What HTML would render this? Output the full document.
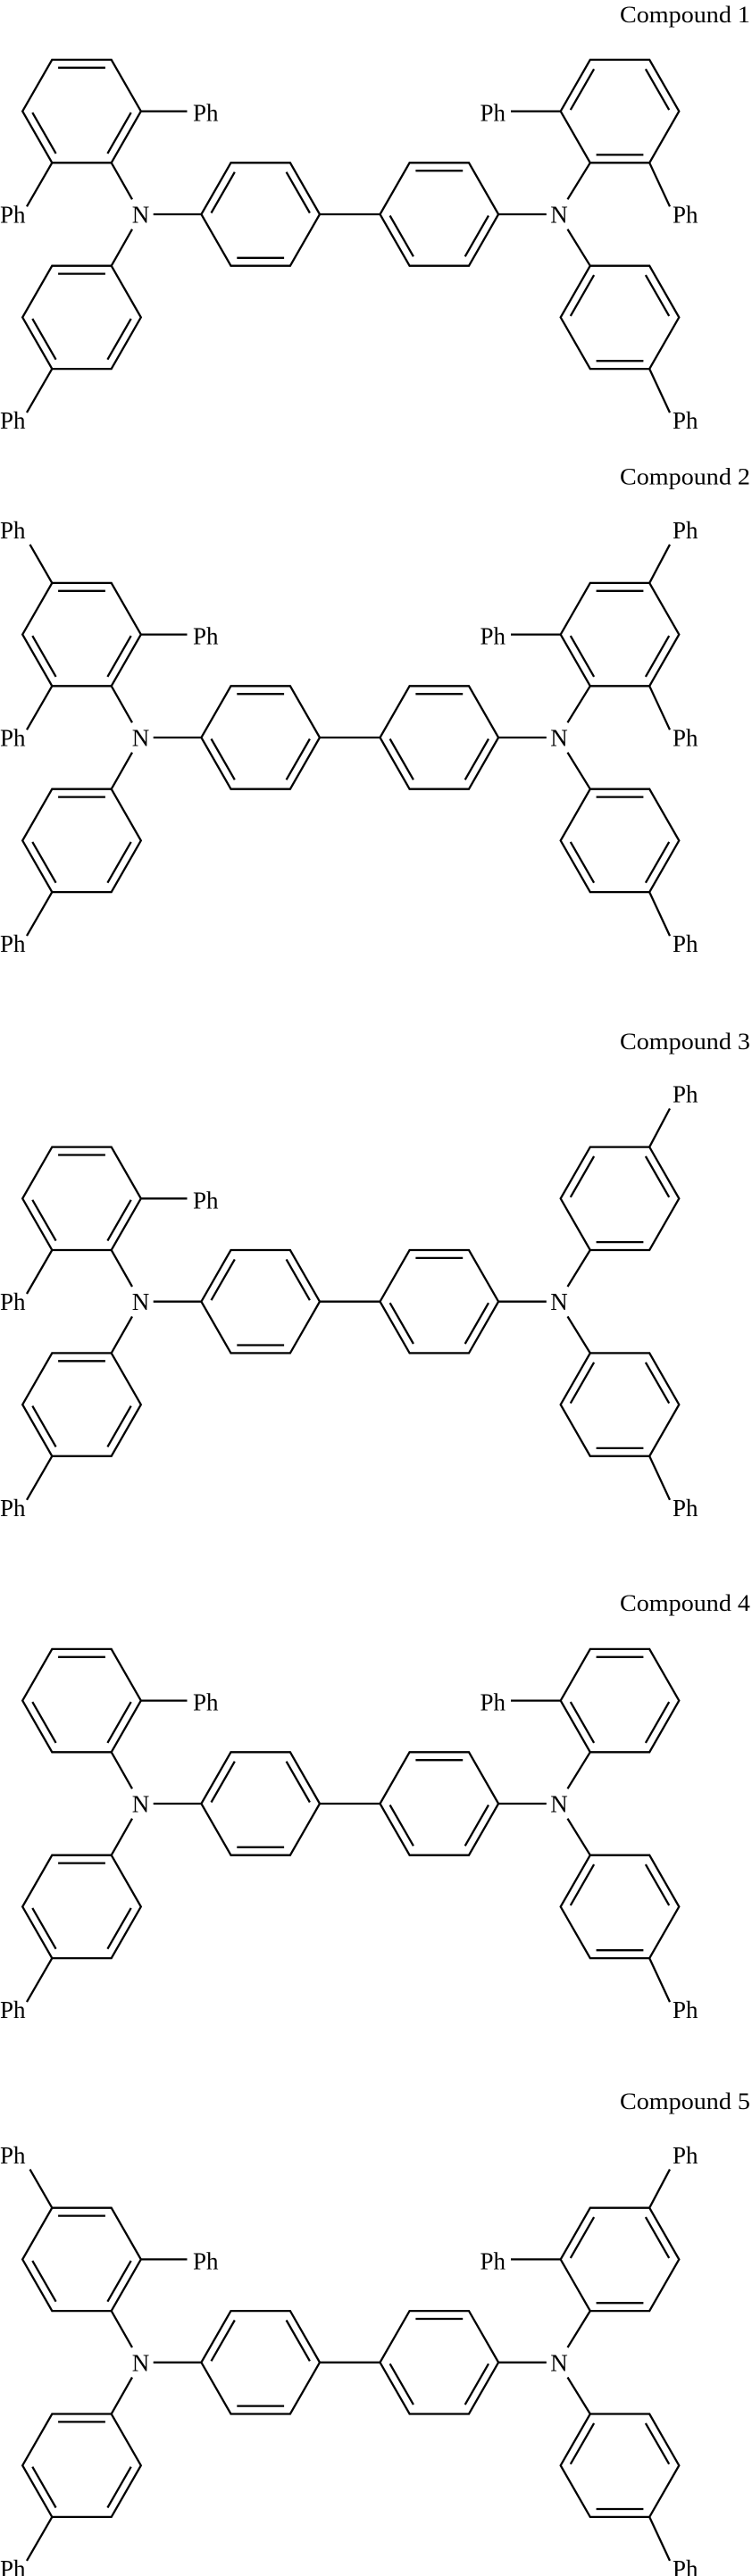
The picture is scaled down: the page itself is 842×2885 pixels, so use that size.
<!DOCTYPE html>
<html><head><meta charset="utf-8"><style>
html,body{margin:0;padding:0;background:#fff;}
svg{display:block;}
text{font-family:"Liberation Serif",serif;fill:#000;}
.p{font-size:27px;}
.t{font-size:26px;}
</style></head><body>
<svg width="842" height="2885" viewBox="0 0 842 2885" xmlns="http://www.w3.org/2000/svg">
<defs>
<polygon id="hx" points="-33.2,-57.7 33.2,-57.7 66.3,0 33.2,57.7 -33.2,57.7 -66.3,0" fill="none" stroke="#000" stroke-width="2.3" stroke-linejoin="miter"/>
<path id="E" d="M-26.4,-48.8 L26.4,-48.8 M55.2,1.5 L28.9,47.3 M-28.9,47.3 L-55.2,1.5" fill="none" stroke="#000" stroke-width="2.3"/>
<path id="O" d="M28.9,-47.3 L55.2,-1.5 M26.4,48.8 L-26.4,48.8 M-55.2,-1.5 L-28.9,-47.3" fill="none" stroke="#000" stroke-width="2.3"/>
<path id="core" d="M148,-16.7 L124.7,-57.7 M148,16.7 L124.7,57.7 M171.7,0 L225.4,0 M358,0 L425.5,0 M558.1,0 L611.8,0 M635.5,-16.7 L660.8,-57.7 M635.5,16.7 L660.8,57.7" fill="none" stroke="#000" stroke-width="2.3"/>
<g id="rings">
<use href="#hx" x="91.5" y="-115.4"/><use href="#hx" x="91.5" y="115.4"/>
<use href="#hx" x="291.7" y="0"/><use href="#hx" x="491.8" y="0"/>
<use href="#hx" x="694" y="-115.4"/><use href="#hx" x="694" y="115.4"/>
<use href="#core"/>
</g>
</defs>

<!-- Compound 1 -->
<text class="t" x="694" y="25" textLength="146" lengthAdjust="spacingAndGlyphs">Compound 1</text>
<g transform="translate(0,240)">
<use href="#rings"/>
<use href="#E" x="91.5" y="-115.4"/><use href="#E" x="91.5" y="115.4"/>
<use href="#O" x="291.7" y="0"/><use href="#E" x="491.8" y="0"/>
<use href="#O" x="694" y="-115.4"/><use href="#O" x="694" y="115.4"/>
<path d="M157.8,-115.4 L209.5,-115.4 M58.3,-57.7 L30,-8.7 M58.3,173.1 L30,222.1 M627.7,-115.4 L572,-115.4 M727.2,-57.7 L750,-8.7 M727.2,173.1 L750,222.1" stroke="#000" stroke-width="2.3" fill="none"/>
<text class="p" x="157.5" y="9.5" text-anchor="middle">N</text>
<text class="p" x="626" y="9.5" text-anchor="middle">N</text>
<text class="p" x="216" y="-104.4">Ph</text>
<text class="p" x="0" y="9.3">Ph</text>
<text class="p" x="0" y="240.1">Ph</text>
<text class="p" x="566" y="-104.4" text-anchor="end">Ph</text>
<text class="p" x="753" y="9.3">Ph</text>
<text class="p" x="753" y="240.1">Ph</text>
</g>

<!-- Compound 2 -->
<text class="t" x="694" y="542.3" textLength="146" lengthAdjust="spacingAndGlyphs">Compound 2</text>
<g transform="translate(0,826)">
<use href="#rings"/>
<use href="#E" x="91.5" y="-115.4"/><use href="#E" x="91.5" y="115.4"/>
<use href="#E" x="291.7" y="0"/><use href="#E" x="491.8" y="0"/>
<use href="#E" x="694" y="-115.4"/><use href="#E" x="694" y="115.4"/>
<path d="M157.8,-115.4 L209.5,-115.4 M58.3,-57.7 L30,-8.7 M58.3,-173.1 L33.5,-216.2 M58.3,173.1 L30,222.1 M627.7,-115.4 L572,-115.4 M727.2,-57.7 L750,-8.7 M727.2,-173.1 L750,-216.2 M727.2,173.1 L750,222.1" stroke="#000" stroke-width="2.3" fill="none"/>
<text class="p" x="157.5" y="9.5" text-anchor="middle">N</text>
<text class="p" x="626" y="9.5" text-anchor="middle">N</text>
<text class="p" x="216" y="-104.4">Ph</text>
<text class="p" x="0" y="9.3">Ph</text>
<text class="p" x="0" y="-223">Ph</text>
<text class="p" x="0" y="240.1">Ph</text>
<text class="p" x="566" y="-104.4" text-anchor="end">Ph</text>
<text class="p" x="753" y="9.3">Ph</text>
<text class="p" x="753" y="-223">Ph</text>
<text class="p" x="753" y="240.1">Ph</text>
</g>

<!-- Compound 3 -->
<text class="t" x="694" y="1175" textLength="146" lengthAdjust="spacingAndGlyphs">Compound 3</text>
<g transform="translate(0,1457.7)">
<use href="#rings"/>
<use href="#E" x="91.5" y="-115.4"/><use href="#E" x="91.5" y="115.4"/>
<use href="#O" x="291.7" y="0"/><use href="#E" x="491.8" y="0"/>
<use href="#O" x="694" y="-115.4"/><use href="#O" x="694" y="115.4"/>
<path d="M157.8,-115.4 L209.5,-115.4 M58.3,-57.7 L30,-8.7 M58.3,173.1 L30,222.1 M727.2,-173.1 L750,-216.2 M727.2,173.1 L750,222.1" stroke="#000" stroke-width="2.3" fill="none"/>
<text class="p" x="157.5" y="9.5" text-anchor="middle">N</text>
<text class="p" x="626" y="9.5" text-anchor="middle">N</text>
<text class="p" x="216" y="-104.4">Ph</text>
<text class="p" x="0" y="9.3">Ph</text>
<text class="p" x="0" y="240.1">Ph</text>
<text class="p" x="753" y="-223">Ph</text>
<text class="p" x="753" y="240.1">Ph</text>
</g>

<!-- Compound 4 -->
<text class="t" x="694" y="1803.8" textLength="146" lengthAdjust="spacingAndGlyphs">Compound 4</text>
<g transform="translate(0,2020)">
<use href="#rings"/>
<use href="#E" x="91.5" y="-115.4"/><use href="#E" x="91.5" y="115.4"/>
<use href="#O" x="291.7" y="0"/><use href="#E" x="491.8" y="0"/>
<use href="#E" x="694" y="-115.4"/><use href="#O" x="694" y="115.4"/>
<path d="M157.8,-115.4 L209.5,-115.4 M58.3,173.1 L30,222.1 M627.7,-115.4 L572,-115.4 M727.2,173.1 L750,222.1" stroke="#000" stroke-width="2.3" fill="none"/>
<text class="p" x="157.5" y="9.5" text-anchor="middle">N</text>
<text class="p" x="626" y="9.5" text-anchor="middle">N</text>
<text class="p" x="216" y="-104.4">Ph</text>
<text class="p" x="0" y="240.1">Ph</text>
<text class="p" x="566" y="-104.4" text-anchor="end">Ph</text>
<text class="p" x="753" y="240.1">Ph</text>
</g>

<!-- Compound 5 -->
<text class="t" x="694" y="2361.9" textLength="146" lengthAdjust="spacingAndGlyphs">Compound 5</text>
<g transform="translate(0,2645.8)">
<use href="#rings"/>
<use href="#E" x="91.5" y="-115.4"/><use href="#E" x="91.5" y="115.4"/>
<use href="#O" x="291.7" y="0"/><use href="#E" x="491.8" y="0"/>
<use href="#O" x="694" y="-115.4"/><use href="#O" x="694" y="115.4"/>
<path d="M157.8,-115.4 L209.5,-115.4 M58.3,-173.1 L33.5,-216.2 M58.3,173.1 L30,222.1 M627.7,-115.4 L572,-115.4 M727.2,-173.1 L750,-216.2 M727.2,173.1 L750,222.1" stroke="#000" stroke-width="2.3" fill="none"/>
<text class="p" x="157.5" y="9.5" text-anchor="middle">N</text>
<text class="p" x="626" y="9.5" text-anchor="middle">N</text>
<text class="p" x="216" y="-104.4">Ph</text>
<text class="p" x="0" y="-223">Ph</text>
<text class="p" x="0" y="240.1">Ph</text>
<text class="p" x="566" y="-104.4" text-anchor="end">Ph</text>
<text class="p" x="753" y="-223">Ph</text>
<text class="p" x="753" y="240.1">Ph</text>
</g>
</svg>
</body></html>
